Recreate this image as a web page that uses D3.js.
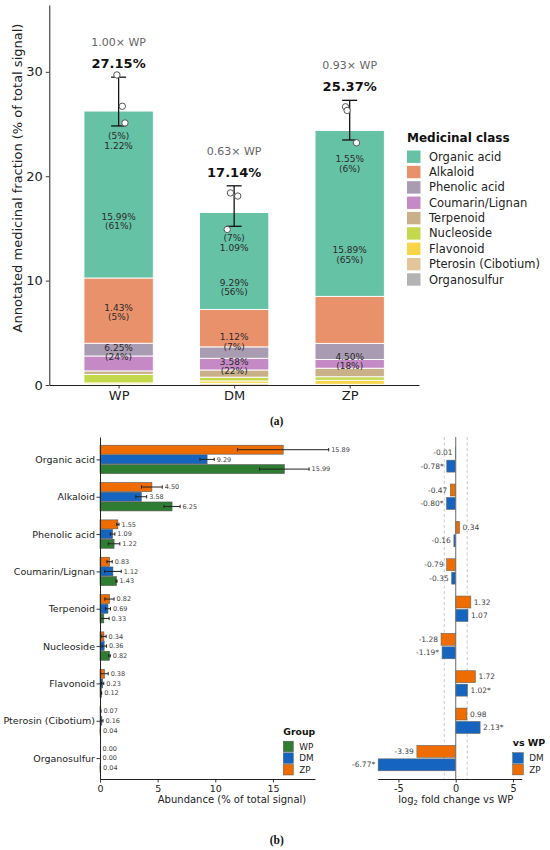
<!DOCTYPE html>
<html>
<head>
<meta charset="utf-8">
<script src="https://cdn.jsdelivr.net/npm/d3@7"></script>
<style>
  body { margin: 0; background: #fff; }
  text { font-family: "DejaVu Sans", sans-serif; }
</style>
</head>
<body>
<div id="chart"></div>
<script>
// ---- data ----
const groups = ["WP", "DM", "ZP"]
const classes = ["Organic acid", "Alkaloid", "Phenolic acid", "Coumarin/Lignan", "Terpenoid",
  "Nucleoside", "Flavonoid", "Pterosin (Cibotium)", "Organosulfur"]
const classColors = ["#66c2a5", "#e9916a", "#a99bb1", "#c58ac6", "#c9b089",
  "#c3d84a", "#f8d548", "#e2c598", "#b3b3b3"]
const groupColors = {WP: "#2e7d32", DM: "#1565c0", ZP: "#ef6c00"}

// class means (% of total signal)
const meanWP = [15.99, 6.25, 1.22, 1.43, 0.33, 0.82, 0.12, 0.04, 0.04]
const meanDM = [9.29, 3.58, 1.09, 1.12, 0.69, 0.36, 0.23, 0.16, 0.00]
const meanZP = [15.89, 4.50, 1.55, 0.83, 0.82, 0.34, 0.38, 0.07, 0.00]
// class SDs
const sdWP = [2.15, 0.70, 0.50, 0.05, 0.46, 0.07, 0.03, 0.01, 0.01]
const sdDM = [0.62, 0.47, 0.20, 0.72, 0.22, 0.20, 0.10, 0.10, 0.00]
const sdZP = [3.95, 0.90, 0.10, 0.23, 0.40, 0.19, 0.33, 0.01, 0.00]

// total annotated fraction per group
const totalMean = [27.15, 17.14, 25.37]
const replicates = [[29.7, 26.7, 25.1], [18.4, 18.1, 14.9], [26.65, 26.3, 23.2]]
const jitter = [[-0.015, 0.032, 0.055], [-0.032, 0.031, -0.06], [-0.036, -0.022, 0.059]]

// log2 fold change vs WP
const log2fcDM = [-0.78, -0.80, -0.16, -0.35, 1.07, -1.19, 1.02, 2.13, -6.77]
const log2fcZP = [-0.01, -0.47, 0.34, -0.79, 1.32, -1.28, 1.72, 0.98, -3.39]
const sigDM = [true, true, false, false, false, true, true, true, true]
const sigZP = [false, false, false, false, false, false, false, false, false]

const means = {WP: meanWP, DM: meanDM, ZP: meanZP}
const sds = {WP: sdWP, DM: sdDM, ZP: sdZP}
const color = d3.scaleOrdinal().domain(classes).range(classColors)

const svg = d3.select("#chart").append("svg")
  .attr("width", 550).attr("height", 850)

function styleAxis(g, size) {
  g.selectAll("path.domain").attr("stroke", "#222").attr("stroke-width", 1)
  g.selectAll(".tick line").attr("stroke", "#222").attr("stroke-width", 0.9)
  g.selectAll(".tick text").attr("fill", "#222").style("font-size", size + "px")
    .style("font-family", "DejaVu Sans")
}

// ================= panel (a) =================
const xTop = d3.scaleLinear().domain([-0.6, 2.6]).range([49.3, 419])
const yTop = d3.scaleLinear().domain([0, 36.4]).range([385, 5])
const barW = 0.6

const table = groups.map((g, i) => {
  const row = {group: g, idx: i}
  classes.forEach((c, k) => row[c] = means[g][k])
  return row
})
const stack = d3.stack().keys(classes.slice().reverse())(table)

const gA = svg.append("g")
gA.selectAll("g.layer")
  .data(stack)
  .join("g").attr("class", "layer")
  .attr("fill", d => color(d.key))
  .selectAll("rect")
  .data(d => d)
  .join("rect")
  .attr("x", d => xTop(d.data.idx - barW / 2))
  .attr("width", xTop(barW) - xTop(0))
  .attr("y", d => yTop(d[1]))
  .attr("height", d => yTop(d[0]) - yTop(d[1]))
  .attr("stroke", "#fff").attr("stroke-width", 0.9)

// segment labels (classes >= 4.5% of the bar, stacked alphabetically)
groups.forEach((g, i) => {
  const total = d3.sum(means[g])
  const sd = d3.deviation(replicates[i])
  const errLow = totalMean[i] - sd
  const lab = classes.map((c, k) => ({c, v: means[g][k], share: means[g][k] / total}))
    .filter(d => d.share >= 0.045)
    .sort((a, b) => d3.ascending(a.c, b.c))
  let cum = 0
  lab.forEach(d => {
    const mid = cum + d.v / 2
    cum += d.v
    let lines = [d.v.toFixed(2) + "%", "(" + Math.round(d.share * 100) + "%)"]
    let py = yTop(mid)
    if (errLow - mid < 1) { lines = lines.reverse(); py += 9.5 }
    const t = gA.append("text")
      .attr("x", xTop(i)).attr("y", py)
      .attr("text-anchor", "middle")
      .attr("fill", "#2a2a2a")
      .style("font-size", "9px")
    lines.forEach((l, j) => t.append("tspan")
      .attr("x", xTop(i)).attr("y", py + (j - 0.5) * 9.5)
      .attr("dy", "0.35em").text(l))
  })
})

// error bars, replicates, annotations
groups.forEach((g, i) => {
  const sd = d3.deviation(replicates[i])
  const cx = xTop(i)
  const top = yTop(totalMean[i] + sd), bot = yTop(totalMean[i] - sd)
  gA.append("line").attr("x1", cx).attr("x2", cx).attr("y1", top).attr("y2", bot)
    .attr("stroke", "#111").attr("stroke-width", 1.3)
  ;[top, bot].forEach(y => gA.append("line")
    .attr("x1", cx - 7.5).attr("x2", cx + 7.5).attr("y1", y).attr("y2", y)
    .attr("stroke", "#111").attr("stroke-width", 1.3))
  replicates[i].forEach((v, j) => gA.append("circle")
    .attr("cx", xTop(i + jitter[i][j])).attr("cy", yTop(v)).attr("r", 3.2)
    .attr("fill", "#fff").attr("stroke", "#555").attr("stroke-width", 1))
  gA.append("text").attr("x", cx).attr("y", top - 9)
    .attr("text-anchor", "middle").attr("font-weight", "bold")
    .attr("fill", "#111").style("font-size", "13px")
    .text(totalMean[i].toFixed(2) + "%")
  gA.append("text").attr("x", cx).attr("y", top - 31)
    .attr("text-anchor", "middle").attr("fill", "#666").style("font-size", "11px")
    .text((totalMean[i] / totalMean[0]).toFixed(2) + "\u00d7 WP")
})

const yAxA = gA.append("g").attr("transform", "translate(49.3,0)")
  .call(d3.axisLeft(yTop).tickValues([0, 10, 20, 30]).tickSize(3.5).tickPadding(3).tickSizeOuter(0))
styleAxis(yAxA, 13)
const xAxA = gA.append("g").attr("transform", "translate(0,385)")
  .call(d3.axisBottom(xTop).tickValues([0, 1, 2]).tickFormat(i => groups[i]).tickSize(3.5).tickPadding(2.5).tickSizeOuter(0))
styleAxis(xAxA, 13)

gA.append("text")
  .attr("transform", "translate(17,178) rotate(-90)")
  .attr("text-anchor", "middle").attr("dy", "0.35em")
  .attr("fill", "#222").style("font-size", "13px")
  .text("Annotated medicinal fraction (% of total signal)")

// legend
const legA = gA.append("g").attr("transform", "translate(407,0)")
legA.append("text").attr("x", 0).attr("y", 142)
  .attr("font-weight", "bold").attr("fill", "#111").style("font-size", "12px")
  .text("Medicinal class")
classes.forEach((c, k) => {
  const cy = 156.7 + k * 15.35
  legA.append("rect").attr("x", 0).attr("y", cy - 6.2).attr("width", 13.5).attr("height", 12.4)
    .attr("fill", color(c))
  legA.append("text").attr("x", 22).attr("y", cy).attr("dy", "0.35em")
    .attr("fill", "#222").style("font-size", "11.5px").text(c)
})

// ================= panel (b) left =================
const xAb = d3.scaleLinear().domain([0, 18.65]).range([100, 315])
const yCat = d3.scaleLinear().domain([-0.6, 8.56]).range([437, 779])
const offL = {ZP: -0.26, DM: 0, WP: 0.26}
const hL = 0.24
const unit = yCat(1) - yCat(0)

const gB = svg.append("g")
const barsL = []
classes.forEach((c, k) => ["ZP", "DM", "WP"].forEach(g =>
  barsL.push({c, k, g, m: means[g][k], sd: sds[g][k]})))

gB.selectAll("rect.ab")
  .data(barsL)
  .join("rect").attr("class", "ab")
  .attr("x", xAb(0))
  .attr("width", d => xAb(d.m) - xAb(0))
  .attr("y", d => yCat(d.k + offL[d.g] - hL / 2))
  .attr("height", hL * unit)
  .attr("fill", d => groupColors[d.g])
  .attr("stroke", "#555").attr("stroke-width", 0.6)

barsL.forEach(d => {
  const cy = yCat(d.k + offL[d.g])
  const lo = Math.max(0, d.m - d.sd), hi = d.m + d.sd
  if (d.sd > 0) {
    gB.append("line").attr("x1", xAb(lo)).attr("x2", xAb(hi)).attr("y1", cy).attr("y2", cy)
      .attr("stroke", "#222").attr("stroke-width", 1)
    const caps = d.m - d.sd >= 0 ? [lo, hi] : [hi]
    caps.forEach(v => gB.append("line").attr("x1", xAb(v)).attr("x2", xAb(v))
      .attr("y1", cy - 1.7).attr("y2", cy + 1.7).attr("stroke", "#222").attr("stroke-width", 1))
  }
  gB.append("text").attr("x", xAb(hi) + 2.5).attr("y", cy).attr("dy", "0.35em")
    .attr("fill", "#444").style("font-size", "6.5px").text(d.m.toFixed(2))
})

const yAxB = gB.append("g").attr("transform", "translate(100,0)")
  .call(d3.axisLeft(yCat).tickValues(d3.range(classes.length)).tickFormat(k => classes[k])
    .tickSize(3.5).tickPadding(1.5).tickSizeOuter(0))
styleAxis(yAxB, 9.5)
const xAxB = gB.append("g").attr("transform", "translate(0,779)")
  .call(d3.axisBottom(xAb).tickValues([0, 5, 10, 15]).tickSize(3.5).tickPadding(2.5).tickSizeOuter(0))
styleAxis(xAxB, 9.5)
gB.append("text").attr("x", 232).attr("y", 799).attr("dy", "0.35em")
  .attr("text-anchor", "middle").attr("fill", "#222").style("font-size", "10px")
  .text("Abundance (% of total signal)")

const legB = gB.append("g").attr("transform", "translate(283.3,0)")
legB.append("text").attr("x", 0).attr("y", 731.7).attr("dy", "0.35em")
  .attr("font-weight", "bold").attr("fill", "#111").style("font-size", "9.3px").text("Group")
groups.forEach((g, j) => {
  const cy = 746.5 + j * 11.6
  legB.append("rect").attr("x", 0).attr("y", cy - 5.3).attr("width", 10).attr("height", 10.6)
    .attr("fill", groupColors[g]).attr("stroke", "#555").attr("stroke-width", 0.5)
  legB.append("text").attr("x", 16).attr("y", cy).attr("dy", "0.35em")
    .attr("fill", "#222").style("font-size", "8.8px").text(g)
})

// ================= panel (b) right =================
const xFc = d3.scaleLinear().domain([-6.81, 5.76]).range([377.7, 521.7])
const offR = {ZP: -0.18, DM: 0.18}
const hR = 0.32
const fc = {DM: log2fcDM, ZP: log2fcZP}
const sig = {DM: sigDM, ZP: sigZP}
const barsR = []
classes.forEach((c, k) => ["ZP", "DM"].forEach(g =>
  barsR.push({k, g, v: fc[g][k], s: sig[g][k]})))

const gC = svg.append("g")
;[-1, 1].forEach(v => gC.append("line")
  .attr("x1", xFc(v)).attr("x2", xFc(v)).attr("y1", 437).attr("y2", 779)
  .attr("stroke", "#bbb").attr("stroke-width", 0.8).attr("stroke-dasharray", "3,2.5"))

gC.selectAll("rect.fc")
  .data(barsR)
  .join("rect").attr("class", "fc")
  .attr("x", d => xFc(Math.min(0, d.v)))
  .attr("width", d => Math.abs(xFc(d.v) - xFc(0)))
  .attr("y", d => yCat(d.k + offR[d.g] - hR / 2))
  .attr("height", hR * unit)
  .attr("fill", d => groupColors[d.g])
  .attr("stroke", "#666").attr("stroke-width", 0.6)

gC.selectAll("text.fc")
  .data(barsR)
  .join("text").attr("class", "fc")
  .attr("x", d => d.v < 0 ? xFc(d.v) - 3 : xFc(d.v) + 3)
  .attr("y", d => yCat(d.k + offR[d.g]))
  .attr("dy", "0.35em")
  .attr("text-anchor", d => d.v < 0 ? "end" : "start")
  .attr("fill", "#444").style("font-size", "7.5px")
  .text(d => d.v.toFixed(2) + (d.s ? "*" : ""))

gC.append("line").attr("x1", xFc(0)).attr("x2", xFc(0)).attr("y1", 437).attr("y2", 779)
  .attr("stroke", "#777").attr("stroke-width", 1.1)

const xAxC = gC.append("g").attr("transform", "translate(0,779)")
  .call(d3.axisBottom(xFc).tickValues([-5, 0, 5]).tickFormat(d => d < 0 ? "-" + Math.abs(d) : d)
    .tickSize(3.5).tickPadding(2.5).tickSizeOuter(0))
styleAxis(xAxC, 9.8)
const xl = gC.append("text").attr("x", 455.8).attr("y", 799).attr("dy", "0.35em")
  .attr("text-anchor", "middle").attr("fill", "#222").style("font-size", "10px")
xl.append("tspan").text("log")
xl.append("tspan").attr("baseline-shift", "-25%").style("font-size", "7px").text("2")
xl.append("tspan").text(" fold change vs WP")

const legC = gC.append("g").attr("transform", "translate(512.7,0)")
legC.append("text").attr("x", 0).attr("y", 742.7).attr("dy", "0.35em")
  .attr("font-weight", "bold").attr("fill", "#111").style("font-size", "9.5px").text("vs WP")
;["DM", "ZP"].forEach((g, j) => {
  const cy = 758 + j * 11.6
  legC.append("rect").attr("x", 0).attr("y", cy - 5.3).attr("width", 10.6).attr("height", 10.6)
    .attr("fill", groupColors[g]).attr("stroke", "#555").attr("stroke-width", 0.5)
  legC.append("text").attr("x", 16.6).attr("y", cy).attr("dy", "0.35em")
    .attr("fill", "#222").style("font-size", "8.8px").text(g)
})

// captions
;[["(a)", 420.7], ["(b)", 840]].forEach(([t, y]) => svg.append("text")
  .attr("x", 276.7).attr("y", y).attr("dy", "0.35em").attr("text-anchor", "middle")
  .attr("font-weight", "bold").attr("fill", "#111")
  .style("font-family", "Liberation Serif").style("font-size", "11.5px").text(t))
</script>
</body>
</html>
